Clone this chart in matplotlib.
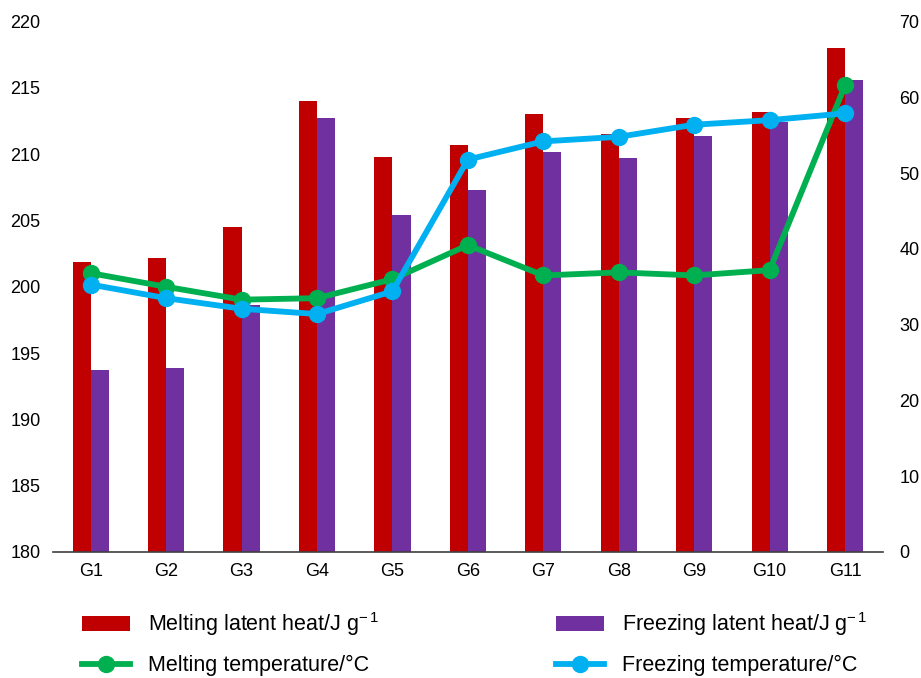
import matplotlib
matplotlib.use("Agg")
import matplotlib.pyplot as plt
import numpy as np

plt.rcParams["font.family"] = ["Liberation Sans", "DejaVu Sans"]
plt.rcParams["mathtext.fontset"] = "custom"
plt.rcParams["mathtext.rm"] = "Liberation Sans"
plt.rcParams["mathtext.it"] = "Liberation Sans"

# data
groups = ["G1", "G2", "G3", "G4", "G5", "G6", "G7", "G8", "G9", "G10", "G11"]
melt_heat = [201.9, 202.2, 204.5, 214.0, 209.8, 210.7, 213.0, 211.5, 212.7, 213.2, 218.0]
freeze_heat = [193.7, 193.9, 198.6, 212.7, 205.4, 207.3, 210.2, 209.7, 211.4, 212.4, 215.6]
melt_temp = [36.8, 35.0, 33.3, 33.5, 36.0, 40.5, 36.5, 36.9, 36.5, 37.2, 61.6]
freeze_temp = [35.3, 33.5, 32.1, 31.4, 34.4, 51.8, 54.2, 54.8, 56.4, 57.0, 57.9]

RED = "#C00000"
PURPLE = "#7030A0"
GREEN = "#00B050"
BLUE = "#00B0F0"

fig = plt.figure(figsize=(9.21, 6.78), dpi=100)
ax = fig.add_axes([0.0575, 0.186, 0.901, 0.782])
ax2 = ax.twinx()

x = np.arange(len(groups))
w = 0.24
b1 = ax.bar(x - w / 2, np.array(melt_heat) - 180, w, bottom=180, color=RED)
b2 = ax.bar(x + w / 2, np.array(freeze_heat) - 180, w, bottom=180, color=PURPLE)

l1, = ax2.plot(x, melt_temp, color=GREEN, lw=4.2, marker="o", ms=11.5)
l2, = ax2.plot(x, freeze_temp, color=BLUE, lw=4.2, marker="o", ms=11.5)

ax.set_xlim(-0.5, len(groups) - 0.5)
ax.set_ylim(180, 220)
ax.set_yticks(np.arange(180, 221, 5))
ax2.set_ylim(0, 70)
ax2.set_yticks(np.arange(0, 71, 10))
ax.set_xticks(x)
ax.set_xticklabels(groups)

for a in (ax, ax2):
    for s in ("top", "left", "right", "bottom"):
        a.spines[s].set_visible(False)
ax.spines["bottom"].set_visible(True)
ax.spines["bottom"].set_color("#404040")
ax.spines["bottom"].set_linewidth(1.2)

ax.tick_params(axis="both", length=0, labelsize=13)
ax.tick_params(axis="y", pad=9)
ax.tick_params(axis="x", pad=8)
ax2.tick_params(axis="y", length=0, labelsize=13, pad=12)

fig.legend(
    [b1, l1, b2, l2],
    ["Melting latent heat/J g$^{-\\,1}$", "Melting temperature/\u00b0C",
     "Freezing latent heat/J g$^{-\\,1}$", "Freezing temperature/\u00b0C"],
    ncol=2, loc="lower left", bbox_to_anchor=(0.068, -0.026),
    frameon=False, fontsize=15.5, handlelength=2.23, handletextpad=0.84,
    columnspacing=8.2, labelspacing=0.78,
)

fig.savefig("out.png", dpi=100)
